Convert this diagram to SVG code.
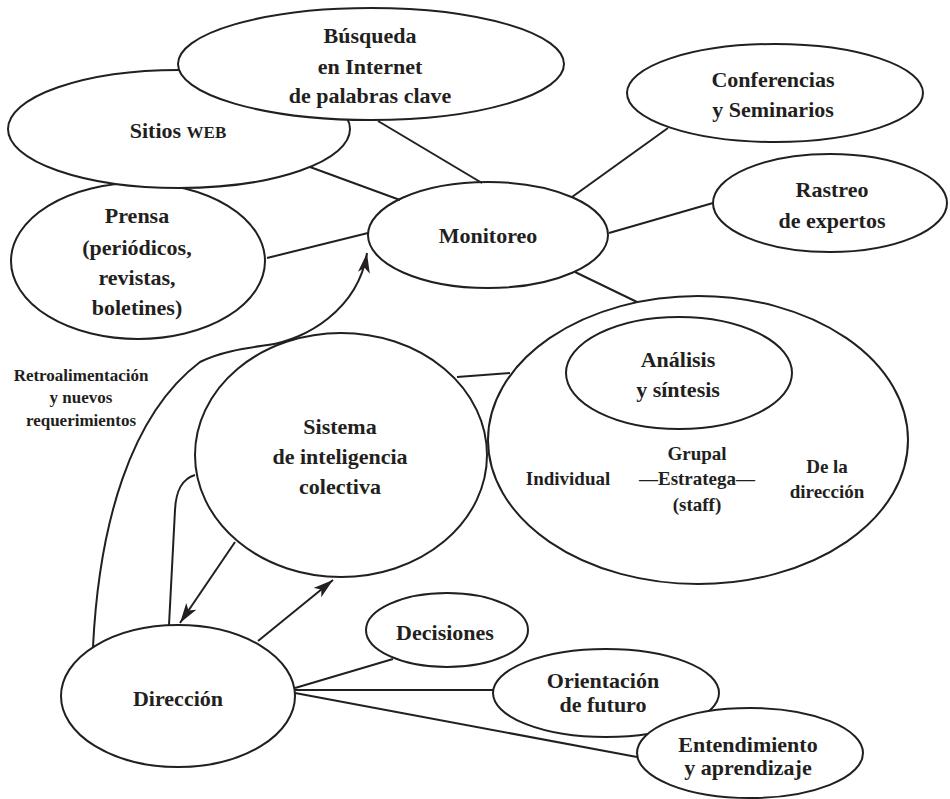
<svg xmlns="http://www.w3.org/2000/svg" width="950" height="799" viewBox="0 0 950 799">
<style>
.n{fill:#fff;stroke:#231f20;stroke-width:2}
.c{fill:none;stroke:#231f20;stroke-width:2}
text{font-family:"Liberation Serif","Times New Roman",serif;font-weight:bold;fill:#231f20;text-anchor:middle}
.t{font-size:22px}
.s{font-size:19px}
.r{font-size:17px}
</style>
<defs>
<marker id="ah" viewBox="0 0 20 12" refX="20" refY="6" markerWidth="20" markerHeight="12" markerUnits="userSpaceOnUse" orient="auto">
<path d="M0,0 L20,6 L0,12 L5,6 z" fill="#231f20"/>
</marker>
</defs>
<rect width="950" height="799" fill="#fff"/>
<g id="prensa">
<ellipse class="n" cx="138" cy="261" rx="127" ry="78"/>
<text class="t" x="137" y="223">Prensa</text>
<text class="t" x="137" y="255">(periódicos,</text>
<text class="t" x="137" y="285">revistas,</text>
<text class="t" x="137" y="315">boletines)</text>
</g>
<g id="sitios">
<ellipse class="n" cx="179" cy="129" rx="171" ry="59"/>
<text class="t" x="178" y="138">Sitios <tspan font-size="17">WEB</tspan></text>
</g>
<g id="busqueda">
<ellipse class="n" cx="371" cy="64" rx="193" ry="56"/>
<text class="t" x="370" y="43">Búsqueda</text>
<text class="t" x="370" y="74">en Internet</text>
<text class="t" x="370" y="103">de palabras clave</text>
</g>
<g id="monitoreo">
<ellipse class="n" cx="488" cy="235" rx="120" ry="53"/>
<text class="t" x="488" y="243">Monitoreo</text>
</g>
<g id="conferencias">
<ellipse class="n" cx="775" cy="93" rx="148" ry="49"/>
<text class="t" x="773" y="87">Conferencias</text>
<text class="t" x="773" y="117">y Seminarios</text>
</g>
<g id="rastreo">
<ellipse class="n" cx="830" cy="203" rx="117" ry="49"/>
<text class="t" x="832" y="197">Rastreo</text>
<text class="t" x="832" y="228">de expertos</text>
</g>
<g id="sistema">
<ellipse class="n" cx="341" cy="455" rx="146" ry="122"/>
<text class="t" x="340" y="434">Sistema</text>
<text class="t" x="340" y="464">de inteligencia</text>
<text class="t" x="340" y="494">colectiva</text>
</g>
<g id="analisis-contenedor">
<ellipse class="n" cx="698" cy="440" rx="210" ry="144"/>
<text class="s" x="568" y="485">Individual</text>
<text class="s" x="697" y="460">Grupal</text>
<text class="s" x="697" y="485">—Estratega—</text>
<text class="s" x="697" y="511">(staff)</text>
<text class="s" x="827" y="473">De la</text>
<text class="s" x="827" y="498">dirección</text>
</g>
<g id="analisis">
<ellipse class="n" cx="679" cy="373" rx="113" ry="56"/>
<text class="t" x="678" y="367">Análisis</text>
<text class="t" x="678" y="397">y síntesis</text>
</g>
<g id="retro-label">
<text class="r" x="81" y="381">Retroalimentación</text>
<text class="r" x="81" y="403">y nuevos</text>
<text class="r" x="81" y="426">requerimientos</text>
</g>
<g id="direccion">
<ellipse class="n" cx="178" cy="696" rx="117" ry="71"/>
<text class="t" x="178" y="706">Dirección</text>
</g>
<g id="decisiones">
<ellipse class="n" cx="447" cy="630" rx="81" ry="37"/>
<text class="t" x="445" y="640">Decisiones</text>
</g>
<g id="orientacion">
<ellipse class="n" cx="606" cy="693" rx="113" ry="44"/>
<text class="t" x="603" y="688">Orientación</text>
<text class="t" x="603" y="712">de futuro</text>
</g>
<g id="entendimiento">
<ellipse class="n" cx="750" cy="753" rx="113" ry="45"/>
<text class="t" x="748" y="752">Entendimiento</text>
<text class="t" x="748" y="775">y aprendizaje</text>
</g>
<g id="connectors">
<line class="c" x1="378" y1="121" x2="482" y2="183"/>
<line class="c" x1="310" y1="167" x2="400" y2="200"/>
<line class="c" x1="267" y1="258" x2="368" y2="233"/>
<line class="c" x1="572" y1="197" x2="668" y2="128"/>
<line class="c" x1="609" y1="233" x2="713" y2="203"/>
<line class="c" x1="575" y1="272" x2="637" y2="302"/>
<line class="c" x1="457" y1="377" x2="510" y2="373"/>
<path class="c" d="M93,647 C99,525 130,415 200,362 C222,351 248,348 268,345 C305,340 358,310 367,253" marker-end="url(#ah)"/>
<path class="c" d="M195,475 C182,479 176,490 175,510 L169,625"/>
<line class="c" x1="235" y1="542" x2="180" y2="623" marker-end="url(#ah)"/>
<line class="c" x1="258" y1="641" x2="333" y2="580" marker-end="url(#ah)"/>
<line class="c" x1="295" y1="688" x2="393" y2="659"/>
<line class="c" x1="295" y1="690" x2="493" y2="690"/>
<line class="c" x1="295" y1="693" x2="637" y2="757"/>
</g>
</svg>
